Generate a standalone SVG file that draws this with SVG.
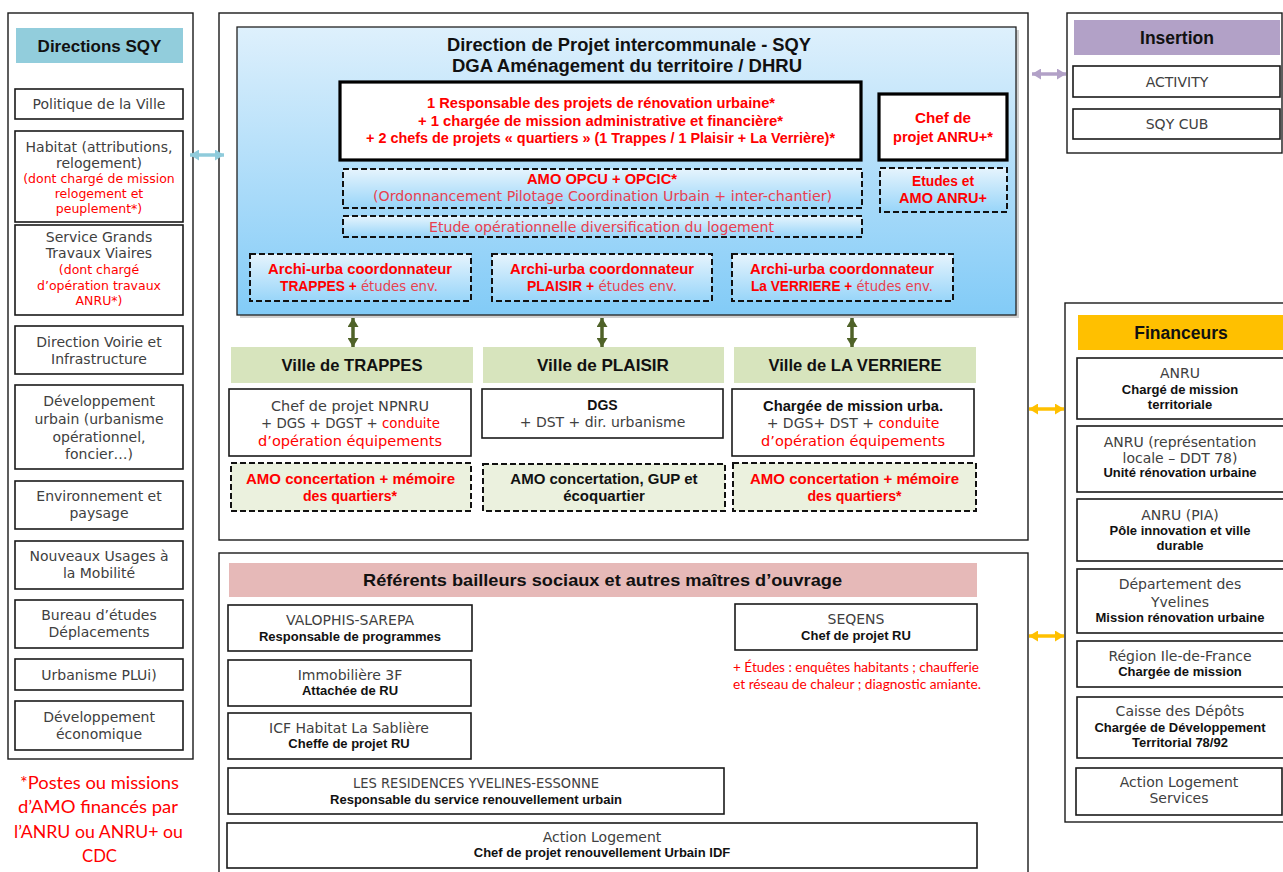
<svg xmlns="http://www.w3.org/2000/svg" width="1283" height="872" viewBox="0 0 1283 872">
<defs>
<style>
.frame{fill:#fff;stroke:#1a1a1a;stroke-width:1.4}
.box{fill:#fff;stroke:#1a1a1a;stroke-width:1.6}
.thick{fill:#fff;stroke:#000;stroke-width:3.2}
.dash{stroke:#111;stroke-width:2;stroke-dasharray:6 3;fill:url(#dg)}
.gdash{stroke:#111;stroke-width:2;stroke-dasharray:6 3;fill:#EBF1DE}
text{text-anchor:middle}
.n{font-family:"DejaVu Sans","Liberation Sans",sans-serif;font-size:14px;fill:#404040}
.s{font-size:12.5px}
.b{font-family:"Liberation Sans",Arial,sans-serif;font-weight:bold;fill:#111}
.r{fill:#ff0000}
.rl{fill:#E8404F}
.c{font-family:Lato,"Liberation Sans",sans-serif;fill:#ff0000}
#connectors line{stroke-width:3.5}
</style>
<linearGradient id="bg" x1="0" y1="0" x2="0" y2="1"><stop offset="0" stop-color="#DEF0FC"/><stop offset="1" stop-color="#82CBF7"/></linearGradient>
<linearGradient id="dg" x1="0" y1="0" x2="0" y2="1"><stop offset="0" stop-color="#E6F4FD"/><stop offset="1" stop-color="#98D5F9"/></linearGradient>
<marker id="mg" viewBox="0 0 10 10" refX="10" refY="5" markerWidth="9" markerHeight="11" preserveAspectRatio="none" markerUnits="userSpaceOnUse" orient="auto-start-reverse"><path d="M0,0L10,5L0,10z" fill="#4F6228"/></marker>
<marker id="mb" viewBox="0 0 10 10" refX="10" refY="5" markerWidth="9" markerHeight="11" preserveAspectRatio="none" markerUnits="userSpaceOnUse" orient="auto-start-reverse"><path d="M0,0L10,5L0,10z" fill="#8FCBDB"/></marker>
<marker id="mp" viewBox="0 0 10 10" refX="10" refY="5" markerWidth="9" markerHeight="11" preserveAspectRatio="none" markerUnits="userSpaceOnUse" orient="auto-start-reverse"><path d="M0,0L10,5L0,10z" fill="#B2A1C7"/></marker>
<marker id="mo" viewBox="0 0 10 10" refX="10" refY="5" markerWidth="9" markerHeight="11" preserveAspectRatio="none" markerUnits="userSpaceOnUse" orient="auto-start-reverse"><path d="M0,0L10,5L0,10z" fill="#FFC000"/></marker>
</defs>
<rect width="1283" height="872" fill="#fff"/>

<!-- Left column: Directions SQY -->
<g id="directions-sqy">
<rect class="frame" x="8" y="13" width="185" height="746"/>
<rect x="16" y="28" width="167" height="35" fill="#92CDDC"/>
<text class="b" x="99.5" y="52" font-size="17">Directions SQY</text>
</g>
<g id="politique-ville"><rect class="box" x="15" y="89" width="168" height="30"/><text class="n" x="99" y="109">Politique de la Ville</text></g>
<g id="habitat"><rect class="box" x="15" y="131" width="168" height="91"/>
<text class="n" x="99" y="152">Habitat (attributions,</text><text class="n" x="99" y="168">relogement)</text>
<text class="n s r" x="99" y="183">(dont chargé de mission</text><text class="n s r" x="99" y="198">relogement et</text><text class="n s r" x="99" y="213">peuplement*)</text></g>
<g id="grands-travaux"><rect class="box" x="15" y="225" width="168" height="90"/>
<text class="n" x="99" y="242">Service Grands</text><text class="n" x="99" y="258">Travaux Viaires</text>
<text class="n s r" x="99" y="274">(dont chargé</text><text class="n s r" x="99" y="290">d’opération travaux</text><text class="n s r" x="99" y="305">ANRU*)</text></g>
<g id="voirie"><rect class="box" x="15" y="326" width="168" height="48"/><text class="n" x="99" y="347">Direction Voirie et</text><text class="n" x="99" y="364">Infrastructure</text></g>
<g id="dev-urbain"><rect class="box" x="15" y="385" width="168" height="84"/><text class="n" x="99" y="406">Développement</text><text class="n" x="99" y="424">urbain (urbanisme</text><text class="n" x="99" y="442">opérationnel,</text><text class="n" x="99" y="459">foncier…)</text></g>
<g id="environnement"><rect class="box" x="15" y="481" width="168" height="48"/><text class="n" x="99" y="501">Environnement et</text><text class="n" x="99" y="518">paysage</text></g>
<g id="mobilite"><rect class="box" x="15" y="541" width="168" height="48"/><text class="n" x="99" y="561">Nouveaux Usages à</text><text class="n" x="99" y="578">la Mobilité</text></g>
<g id="bureau-etudes"><rect class="box" x="15" y="600" width="168" height="48"/><text class="n" x="99" y="620">Bureau d’études</text><text class="n" x="99" y="637">Déplacements</text></g>
<g id="urbanisme-plui"><rect class="box" x="15" y="659" width="168" height="31"/><text class="n" x="99" y="680">Urbanisme PLUi)</text></g>
<g id="dev-eco"><rect class="box" x="15" y="701" width="168" height="49"/><text class="n" x="99" y="722">Développement</text><text class="n" x="99" y="739">économique</text></g>
<g id="footnote">
<text class="c" x="99.5" y="789" font-size="18" textLength="159" lengthAdjust="spacingAndGlyphs">*Postes ou missions</text>
<text class="c" x="98" y="813" font-size="18" textLength="160" lengthAdjust="spacingAndGlyphs">d’AMO financés par</text>
<text class="c" x="98.5" y="838" font-size="18" textLength="169" lengthAdjust="spacingAndGlyphs">l’ANRU ou ANRU+ ou</text>
<text class="c" x="99.5" y="862" font-size="18" textLength="35" lengthAdjust="spacingAndGlyphs">CDC</text>
</g>

<!-- Center top frame -->
<g id="projet-frame"><rect class="frame" x="219" y="13" width="809" height="527"/></g>
<g id="direction-projet">
<rect x="240" y="30" width="779" height="288" fill="#999" opacity="0.45"/>
<rect x="237" y="27" width="779" height="288" fill="url(#bg)" stroke="#222" stroke-width="1.3"/>
<text class="b" x="629" y="51" font-size="18" textLength="364" lengthAdjust="spacingAndGlyphs">Direction de Projet intercommunale - SQY</text>
<text class="b" x="627" y="72" font-size="18" textLength="350" lengthAdjust="spacingAndGlyphs">DGA Aménagement du territoire / DHRU</text>
</g>
<g id="responsables">
<rect class="thick" x="340" y="82" width="521" height="78"/>
<text class="b r" x="601" y="108" font-size="14.5" textLength="348" lengthAdjust="spacingAndGlyphs">1 Responsable des projets de rénovation urbaine*</text>
<text class="b r" x="600.5" y="126" font-size="14.5" textLength="365" lengthAdjust="spacingAndGlyphs">+ 1 chargée de mission administrative et financière*</text>
<text class="b r" x="600.5" y="143" font-size="14.5" textLength="469" lengthAdjust="spacingAndGlyphs">+ 2 chefs de projets « quartiers » (1 Trappes / 1 Plaisir + La Verrière)*</text>
</g>
<g id="chef-anru">
<rect class="thick" x="879" y="94" width="128" height="66"/>
<text class="b r" x="943" y="123" font-size="14.5" textLength="56" lengthAdjust="spacingAndGlyphs">Chef de</text>
<text class="b r" x="943" y="142" font-size="14.5" textLength="100" lengthAdjust="spacingAndGlyphs">projet ANRU+*</text>
</g>
<g id="amo-opcu">
<rect class="dash" x="343" y="169" width="519" height="39"/>
<text class="b r" x="602" y="184" font-size="14.5" textLength="150" lengthAdjust="spacingAndGlyphs">AMO OPCU + OPCIC*</text>
<text class="n rl" x="602.5" y="201" font-size="13.5" textLength="459" lengthAdjust="spacingAndGlyphs">(Ordonnancement Pilotage Coordination Urbain + inter-chantier)</text>
</g>
<g id="etudes-amo">
<rect class="dash" x="880" y="168" width="127" height="44"/>
<text class="b r" x="943" y="186" font-size="14.5" textLength="62" lengthAdjust="spacingAndGlyphs">Etudes et</text>
<text class="b r" x="943" y="203" font-size="14.5" textLength="88" lengthAdjust="spacingAndGlyphs">AMO ANRU+</text>
</g>
<g id="etude-diversification">
<rect class="dash" x="343" y="216" width="519" height="21"/>
<text class="n rl" x="601.5" y="232" font-size="13.5" textLength="345" lengthAdjust="spacingAndGlyphs">Etude opérationnelle diversification du logement</text>
</g>
<g id="archi-trappes">
<rect class="dash" x="250" y="254" width="221" height="47"/>
<text class="b r" x="360" y="274" font-size="14.5" textLength="184" lengthAdjust="spacingAndGlyphs">Archi-urba coordonnateur</text>
<text class="b r" x="359" y="291" font-size="14.5" textLength="158" lengthAdjust="spacingAndGlyphs">TRAPPES +<tspan class="n rl" font-weight="normal" font-size="14"> études env.</tspan></text>
</g>
<g id="archi-plaisir">
<rect class="dash" x="492" y="254" width="220" height="47"/>
<text class="b r" x="602" y="274" font-size="14.5" textLength="184" lengthAdjust="spacingAndGlyphs">Archi-urba coordonnateur</text>
<text class="b r" x="602" y="291" font-size="14.5" textLength="150" lengthAdjust="spacingAndGlyphs">PLAISIR +<tspan class="n rl" font-weight="normal" font-size="14"> études env.</tspan></text>
</g>
<g id="archi-verriere">
<rect class="dash" x="732" y="254" width="221" height="47"/>
<text class="b r" x="842" y="274" font-size="14.5" textLength="184" lengthAdjust="spacingAndGlyphs">Archi-urba coordonnateur</text>
<text class="b r" x="842" y="291" font-size="14.5" textLength="182" lengthAdjust="spacingAndGlyphs">La VERRIERE +<tspan class="n rl" font-weight="normal" font-size="14"> études env.</tspan></text>
</g>

<!-- Villes -->
<g id="ville-trappes">
<rect x="231" y="347" width="242" height="36" fill="#D7E4BD"/>
<text class="b" x="352" y="371" font-size="16.5" textLength="141" lengthAdjust="spacingAndGlyphs">Ville de TRAPPES</text>
<rect class="box" x="229" y="389" width="242" height="67"/>
<text class="n" x="350" y="411" textLength="158" lengthAdjust="spacingAndGlyphs">Chef de projet NPNRU</text>
<text class="n" x="350.5" y="428" textLength="179" lengthAdjust="spacingAndGlyphs">+ DGS + DGST + <tspan class="r">conduite</tspan></text>
<text class="n r" x="350" y="446" textLength="184" lengthAdjust="spacingAndGlyphs">d’opération équipements</text>
<rect class="gdash" x="231" y="463" width="240" height="48"/>
<text class="b r" x="350.5" y="484" font-size="15" textLength="209" lengthAdjust="spacingAndGlyphs">AMO concertation + mémoire</text>
<text class="b r" x="350" y="501" font-size="15" textLength="94" lengthAdjust="spacingAndGlyphs">des quartiers*</text>
</g>
<g id="ville-plaisir">
<rect x="483" y="347" width="241" height="36" fill="#D7E4BD"/>
<text class="b" x="603" y="371" font-size="16.5" textLength="132" lengthAdjust="spacingAndGlyphs">Ville de PLAISIR</text>
<rect class="box" x="482" y="389" width="241" height="49"/>
<text class="b" x="602.5" y="410" font-size="14">DGS</text>
<text class="n" x="602.5" y="427">+ DST + dir. urbanisme</text>
<rect class="gdash" x="483" y="464" width="242" height="47"/>
<text class="b" x="604" y="484" font-size="15">AMO concertation, GUP et</text>
<text class="b" x="604" y="501" font-size="15">écoquartier</text>
</g>
<g id="ville-verriere">
<rect x="734" y="347" width="242" height="36" fill="#D7E4BD"/>
<text class="b" x="855" y="371" font-size="16.5" textLength="173" lengthAdjust="spacingAndGlyphs">Ville de LA VERRIERE</text>
<rect class="box" x="732" y="389" width="242" height="67"/>
<text class="b" x="853" y="411" font-size="15" textLength="180" lengthAdjust="spacingAndGlyphs">Chargée de mission urba.</text>
<text class="n" x="853" y="428">+ DGS+ DST + <tspan class="r">conduite</tspan></text>
<text class="n r" x="853" y="446" textLength="184" lengthAdjust="spacingAndGlyphs">d’opération équipements</text>
<rect class="gdash" x="733" y="463" width="243" height="48"/>
<text class="b r" x="854.5" y="484" font-size="15" textLength="209" lengthAdjust="spacingAndGlyphs">AMO concertation + mémoire</text>
<text class="b r" x="854.5" y="501" font-size="15" textLength="94" lengthAdjust="spacingAndGlyphs">des quartiers*</text>
</g>

<!-- Bailleurs -->
<g id="bailleurs">
<rect class="frame" x="219" y="553" width="809" height="330"/>
<rect x="229" y="563" width="748" height="34" fill="#E6B9B8"/>
<text class="b" x="602.5" y="586" font-size="17" textLength="479" lengthAdjust="spacingAndGlyphs">Référents bailleurs sociaux et autres maîtres d’ouvrage</text>
</g>
<g id="valophis"><rect class="box" x="228" y="605" width="244" height="46"/><text class="n" x="350" y="625">VALOPHIS-SAREPA</text><text class="b" x="350" y="641" font-size="13">Responsable de programmes</text></g>
<g id="immobiliere-3f"><rect class="box" x="228" y="660" width="243" height="46"/><text class="n" x="350" y="680">Immobilière 3F</text><text class="b" x="350" y="695" font-size="13">Attachée de RU</text></g>
<g id="icf"><rect class="box" x="228" y="713" width="243" height="46"/><text class="n" x="349" y="733">ICF Habitat La Sablière</text><text class="b" x="349" y="748" font-size="13">Cheffe de projet RU</text></g>
<g id="residences"><rect class="box" x="228" y="768" width="496" height="46"/><text class="n" x="476" y="788" textLength="246" lengthAdjust="spacingAndGlyphs">LES RESIDENCES YVELINES-ESSONNE</text><text class="b" x="476" y="804" font-size="13">Responsable du service renouvellement urbain</text></g>
<g id="action-logement"><rect class="box" x="227" y="823" width="750" height="45"/><text class="n" x="602" y="842">Action Logement</text><text class="b" x="602" y="857" font-size="13">Chef de projet renouvellement Urbain IDF</text></g>
<g id="seqens"><rect class="box" x="735" y="604" width="242" height="46"/><text class="n" x="856" y="624">SEQENS</text><text class="b" x="856" y="640" font-size="13">Chef de projet RU</text>
<text class="c" x="733" y="672" font-size="13.5" style="text-anchor:start" textLength="246" lengthAdjust="spacingAndGlyphs">+ Études : enquêtes habitants ; chaufferie</text>
<text class="c" x="733" y="689" font-size="13.5" style="text-anchor:start" textLength="248" lengthAdjust="spacingAndGlyphs">et réseau de chaleur ; diagnostic amiante.</text>
</g>

<!-- Insertion -->
<g id="insertion">
<rect class="frame" x="1067" y="13" width="215" height="140"/>
<rect x="1074" y="20" width="206" height="35" fill="#B2A1C7"/>
<text class="b" x="1177" y="44" font-size="17.5">Insertion</text>
</g>
<g id="activity"><rect class="box" x="1073" y="66" width="207" height="31"/><text class="n" x="1177" y="87">ACTIVITY</text></g>
<g id="sqy-cub"><rect class="box" x="1073" y="109" width="207" height="30"/><text class="n" x="1177" y="129">SQY CUB</text></g>

<!-- Financeurs -->
<g id="financeurs">
<rect class="frame" x="1065" y="303" width="230" height="519"/>
<rect x="1078" y="315" width="210" height="35" fill="#FFC000"/>
<text class="b" x="1181" y="339" font-size="17.5">Financeurs</text>
</g>
<g id="anru"><rect class="box" x="1077" y="358" width="210" height="61"/><text class="n" x="1180" y="378">ANRU</text><text class="b" x="1180" y="394" font-size="13">Chargé de mission</text><text class="b" x="1180" y="409" font-size="13">territoriale</text></g>
<g id="anru-ddt"><rect class="box" x="1077" y="426" width="210" height="66"/><text class="n" x="1180" y="447">ANRU (représentation</text><text class="n" x="1180" y="463">locale – DDT 78)</text><text class="b" x="1180" y="477" font-size="13">Unité rénovation urbaine</text></g>
<g id="anru-pia"><rect class="box" x="1077" y="499" width="210" height="62"/><text class="n" x="1180" y="520">ANRU (PIA)</text><text class="b" x="1180" y="535" font-size="13">Pôle innovation et ville</text><text class="b" x="1180" y="550" font-size="13">durable</text></g>
<g id="departement"><rect class="box" x="1077" y="569" width="210" height="64"/><text class="n" x="1180" y="589">Département des</text><text class="n" x="1180" y="607">Yvelines</text><text class="b" x="1180" y="622" font-size="13">Mission rénovation urbaine</text></g>
<g id="region"><rect class="box" x="1077" y="641" width="210" height="46"/><text class="n" x="1180" y="661">Région Ile-de-France</text><text class="b" x="1180" y="676" font-size="13">Chargée de mission</text></g>
<g id="caisse-depots"><rect class="box" x="1077" y="697" width="210" height="61"/><text class="n" x="1180" y="716">Caisse des Dépôts</text><text class="b" x="1180" y="732" font-size="13">Chargée de Développement</text><text class="b" x="1180" y="747" font-size="13">Territorial 78/92</text></g>
<g id="action-logement-services"><rect class="box" x="1076" y="768" width="206" height="47"/><text class="n" x="1179" y="787">Action Logement</text><text class="n" x="1179" y="803">Services</text></g>

<!-- Connectors -->
<g id="connectors">
<line x1="190" y1="155" x2="224" y2="155" stroke="#8FCBDB" marker-start="url(#mb)" marker-end="url(#mb)"/>
<line x1="1032" y1="74" x2="1066" y2="74" stroke="#B2A1C7" marker-start="url(#mp)" marker-end="url(#mp)"/>
<line x1="1029" y1="409" x2="1064" y2="409" stroke="#FFC000" marker-start="url(#mo)" marker-end="url(#mo)"/>
<line x1="1029" y1="636" x2="1064" y2="636" stroke="#FFC000" marker-start="url(#mo)" marker-end="url(#mo)"/>
<line x1="353" y1="318" x2="353" y2="347" stroke="#4F6228" marker-start="url(#mg)" marker-end="url(#mg)"/>
<line x1="602" y1="318" x2="602" y2="347" stroke="#4F6228" marker-start="url(#mg)" marker-end="url(#mg)"/>
<line x1="852" y1="318" x2="852" y2="347" stroke="#4F6228" marker-start="url(#mg)" marker-end="url(#mg)"/>
</g>
</svg>
